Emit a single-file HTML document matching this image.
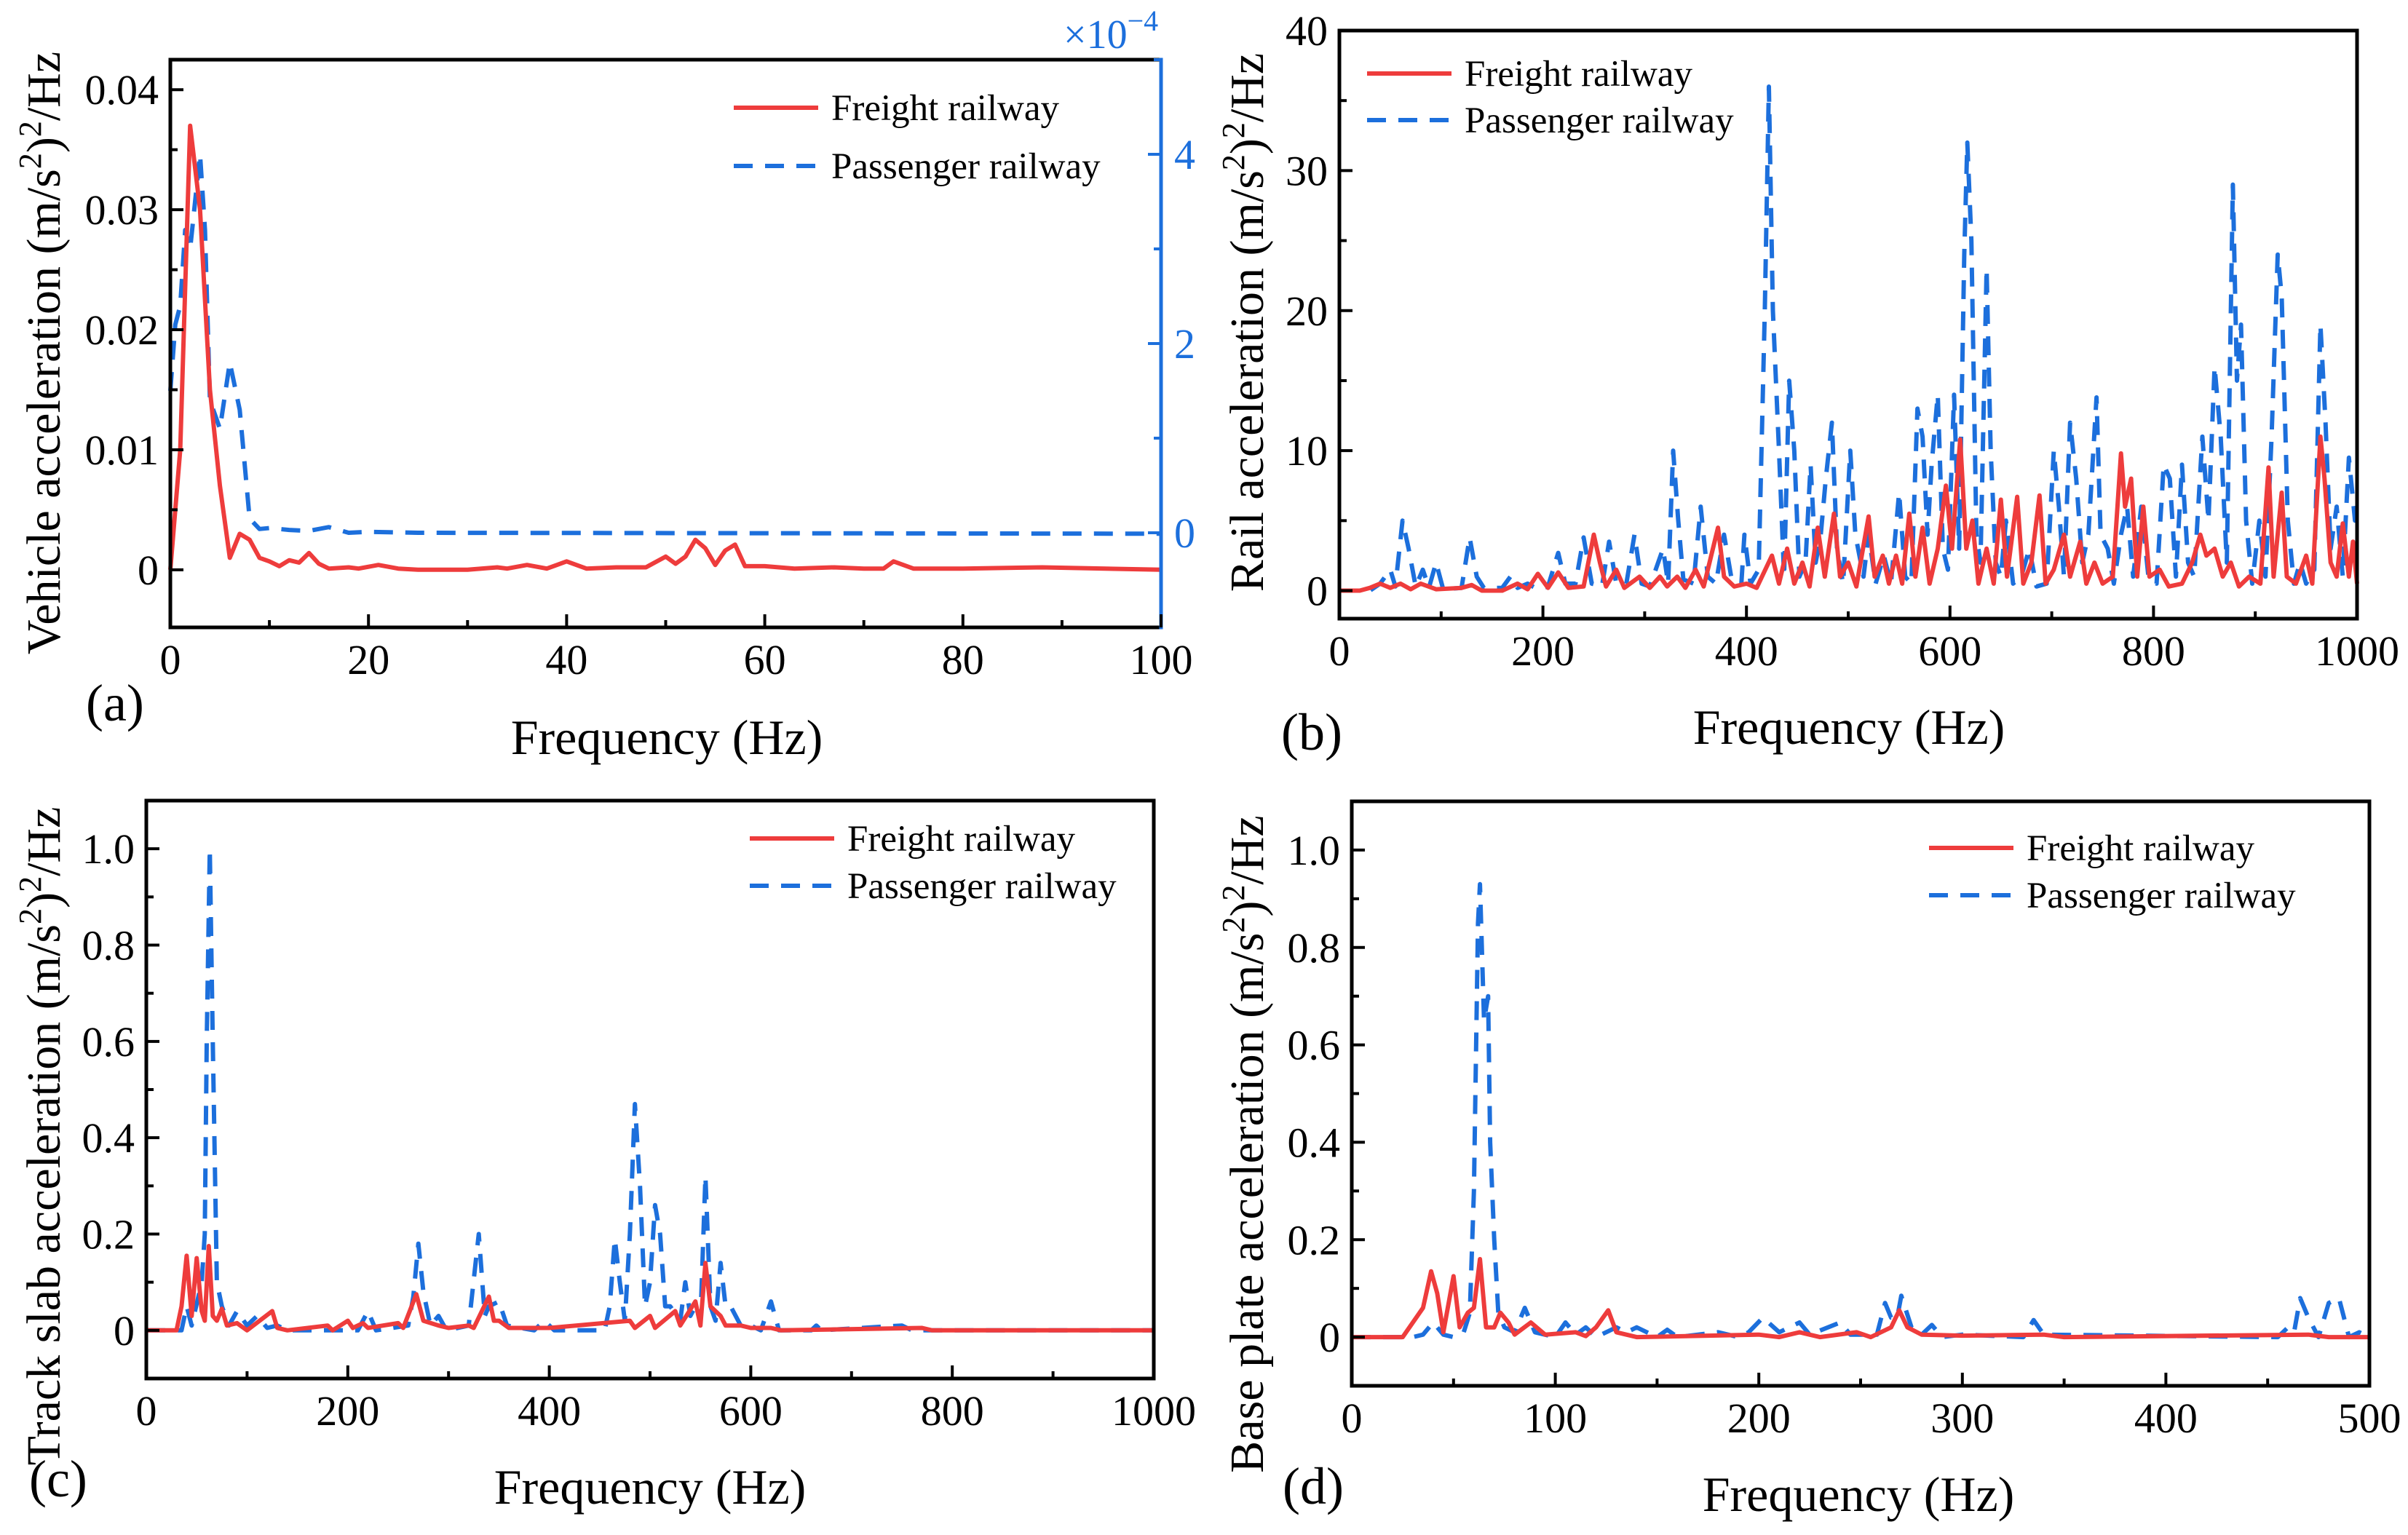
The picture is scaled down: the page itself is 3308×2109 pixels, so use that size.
<!DOCTYPE html>
<html><head><meta charset="utf-8"><style>
html,body{margin:0;padding:0;background:#fff;}
svg, svg text{font-family:"Liberation Serif","Times New Roman",serif;}
</style></head><body>
<svg id="fig" width="3308" height="2104" viewBox="0 0 3308 2104" xmlns="http://www.w3.org/2000/svg" font-family="Liberation Serif, Times New Roman, serif"></svg>
<script>
// ---------- Panel (a) data ----------
const aFreightF = [0,1,2,3,4,5,6,7,8,9,10,11,12,13,14,15,16,18,19,21,23,25,30,33,34,36,38,40,42,45,48,50,51,52,53,54,55,56,57,58,60,63,67,70,72,73,75,80,88,100];
const aFreightV = [0,0.01,0.037,0.03,0.015,0.007,0.001,0.003,0.0025,0.001,0.0007,0.0003,0.0008,0.0006,0.0014,0.0005,0.0001,0.0002,0.0001,0.0004,0.0001,0,0,0.0002,0.0001,0.0004,0.0001,0.0007,0.0001,0.0002,0.0002,0.0011,0.0005,0.0011,0.0025,0.0018,0.0004,0.0016,0.0021,0.0003,0.0003,0.0001,0.0002,0.0001,0.0001,0.0007,0.0001,0.0001,0.0002,0];
const aPassF = [0,0.5,1,1.5,2,2.5,3,3.5,4,5,6,7,8,9,10,12,14,16,18,20,25,100];
const aPassV = [1.5,2.2,2.4,3.2,3.0,3.5,4.0,3.2,1.4,1.1,1.8,1.3,0.15,0.04,0.05,0.03,0.02,0.06,0.0,0.01,0,-0.01];
const aXTicks = ["0","20","40","60","80","100"];
const aYTicks = ["0","0.01","0.02","0.03","0.04"];
const aY2Ticks = ["0","2","4"];
// ---------- Panel (b) data ----------
const bPassF = [0,30,40,50,55,62,68,75,82,88,95,102,120,128,135,142,160,168,175,185,195,205,215,222,232,240,248,258,265,272,282,290,297,305,318,323,328,333,338,348,355,362,370,378,385,395,398,404,412,418,422,426,432,437,442,447,452,458,463,468,473,478,484,489,495,502,507,515,520,527,535,542,550,556,562,568,573,578,582,588,593,598,604,609,614,617,621,626,630,636,640,645,650,655,662,670,678,685,695,702,707,712,718,724,730,736,744,748,755,761,768,774,780,788,795,803,810,816,822,828,834,840,848,854,860,866,872,878,882,886,891,897,904,910,916,922,926,932,938,944,950,958,964,969,974,980,986,992,998,1000];
const bPassV = [0,0,0.5,1.5,0.3,5,3,0.3,1.5,0.2,2,0.1,0.2,3.8,1,0.2,0.2,1,0.2,0.5,0.1,0.3,2.7,0.5,0.5,3.8,0.5,0.3,3.5,0.5,0.5,4,0.5,0.3,3,0.5,10,5,0.8,0.5,6,1,0.5,4,1,0.5,4,0.5,1.5,20,36,20,10,1,15,10,1,2,9,2,4,8,12,3,0.5,10,4,1,4,0.5,2.5,0.5,7,1,0.5,13,11,4,9,14,3,1.5,14,3,24,32,25,4,2,23,10,2,1,5,0.5,1,3,0.3,0.5,10,6,1,12,8,2,4,13.8,4,3,0.5,4,6,1,6,1,0.5,9,8,1,9,2,1,11,5,16,11,2,29,15,19,5,0.5,5,1,11,24,21,5,0.5,2,0.5,1.5,19,12,3,6,1,9.5,5,5];
const bFrF = [0,20,30,40,50,60,70,80,95,120,130,140,160,175,185,195,205,215,225,240,250,256,262,272,280,295,305,315,322,332,340,350,358,372,378,388,400,410,425,432,440,447,455,462,470,477,486,492,500,508,520,526,534,540,547,553,560,566,573,580,588,596,602,610,616,622,628,636,643,650,656,666,672,680,688,694,702,712,718,728,734,742,750,760,768,772,778,784,790,796,806,815,828,838,846,852,860,868,876,884,894,905,913,918,926,931,940,950,956,964,968,974,980,986,992,996,1000];
const bFrV = [0,0,0.2,0.5,0.2,0.5,0.1,0.5,0.1,0.2,0.4,0,0,0.5,0.1,1.2,0.2,1.3,0.2,0.3,4,2,0.3,1.5,0.2,1,0.2,1,0.3,1,0.2,1.5,0.3,4.5,1,0.3,0.5,0.2,2.5,0.5,3,0.5,2,0.3,4.5,1,5.5,1,2,0.3,5.3,1,2.5,0.5,2.5,0.5,5.5,1,4.5,0.5,3,7.5,3,10.8,3,5,0.5,3,0.5,6.5,1,6.7,0.5,2,6.8,0.5,1.5,4,1,3.5,0.5,2,0.5,1,9.8,6,8,1,6,1,1.5,0.3,0.5,2,4,2.5,3,1,2,0.3,1,0.5,8.8,1,7,1,0.5,2.5,0.5,11,8,2,1,4.8,1,3.5,0.5];
const bXTicks = ["0","200","400","600","800","1000"];
const bYTicks = ["0","10","20","30","40"];
// ---------- Panel (c) data ----------
const cPassF = [0,35,40,45,55,58,60,63,66,70,75,82,90,100,110,120,130,140,210,220,228,260,265,270,275,282,290,298,320,330,336,340,350,358,385,395,405,455,460,465,470,475,480,485,490,495,500,505,510,515,520,530,535,540,545,550,555,560,565,570,575,580,590,600,610,620,628,660,665,670,750,760,1000];
const cPassV = [0,0,0.05,0.01,0.1,0.2,0.6,1.0,0.6,0.1,0.05,0.01,0.04,0.01,0.03,0.005,0.01,0,0,0.04,0,0.01,0.07,0.18,0.08,0.01,0.03,0,0.01,0.2,0.03,0.05,0.06,0.01,0,0.02,0,0,0.05,0.19,0.1,0.02,0.2,0.47,0.3,0.05,0.1,0.26,0.2,0.05,0.05,0.02,0.1,0.03,0.05,0.02,0.32,0.05,0.02,0.14,0.05,0.05,0.01,0.01,0,0.06,0,0,0.01,0,0.01,0,0];
const cFrF = [0,30,35,40,45,50,55,58,62,66,70,75,80,90,100,125,130,140,180,185,200,205,215,220,250,255,268,275,290,300,320,325,340,345,350,360,400,480,485,500,505,525,530,545,550,555,560,570,575,590,600,620,630,770,780,1000];
const cFrV = [0,0,0.05,0.155,0.03,0.15,0.04,0.02,0.175,0.03,0.02,0.045,0.01,0.015,0,0.04,0.005,0,0.01,0,0.02,0.005,0.015,0.005,0.015,0.005,0.075,0.02,0.01,0.005,0.01,0.005,0.07,0.02,0.02,0.005,0.005,0.02,0.005,0.03,0.005,0.04,0.01,0.06,0.01,0.14,0.05,0.03,0.01,0.01,0.005,0.005,0,0.005,0,0];
const cXTicks = ["0","200","400","600","800","1000"];
const cYTicks = ["0","0.2","0.4","0.6","0.8","1.0"];
// ---------- Panel (d) data ----------
const dPassF = [0,30,35,40,45,50,55,58,60,62,63,65,67,68,70,72,75,80,85,90,100,105,110,115,120,130,135,140,150,155,160,180,190,195,202,210,220,225,240,245,258,262,265,268,270,275,280,285,290,300,330,335,340,455,460,463,466,470,475,480,485,490,495,500];
const dPassV = [0,0,0.005,0.03,0.005,0,0.01,0.05,0.3,0.85,0.93,0.65,0.7,0.4,0.2,0.05,0.02,0.01,0.06,0.01,0,0.03,0.005,0.02,0,0.02,0.01,0.02,0,0.015,0,0.01,0,0.01,0.04,0.01,0.03,0.005,0.03,0.005,0.005,0.07,0.04,0.04,0.085,0.02,0.005,0.025,0,0.005,0,0.035,0.005,0,0.02,0.01,0.08,0.04,0,0.07,0.08,0,0.01,0];
const dFrF = [0,25,30,35,39,42,45,50,53,57,60,63,66,70,73,77,80,88,95,110,115,120,126,130,140,200,210,220,230,248,255,265,269,273,280,300,340,350,470,480,500];
const dFrV = [0,0,0.03,0.06,0.135,0.09,0.01,0.125,0.02,0.05,0.06,0.16,0.02,0.02,0.05,0.03,0.005,0.03,0.005,0.01,0.002,0.02,0.055,0.01,0,0.005,0,0.01,0,0.01,0,0.02,0.055,0.02,0.005,0.003,0.005,0,0.005,0,0];
const dXTicks = ["0","100","200","300","400","500"];
const dYTicks = ["0","0.2","0.4","0.6","0.8","1.0"];

const NS = "http://www.w3.org/2000/svg";
const svg = document.getElementById('fig');
const RED = "#ee3c3c", BLUE = "#1c6fdc";
const FONT = '"Liberation Serif", "Times New Roman", serif';
function mk(tag, attrs, parent) {
  const e = document.createElementNS(NS, tag);
  for (const k in attrs) e.setAttribute(k, attrs[k]);
  if (tag === 'text') e.style.fontFamily = FONT;
  (parent || svg).appendChild(e);
  return e;
}
function scale(d0, d1, r0, r1) { return v => r0 + (v - d0) / (d1 - d0) * (r1 - r0); }

function panel(cfg) {
  const g = mk('g', {});
  
  
  const X = scale(cfg.xd[0], cfg.xd[1], cfg.L, cfg.R);
  const Y = scale(cfg.yd[0], cfg.yd[1], cfg.B, cfg.T);
  cfg.series.forEach(s => {
    const y = s.axis === 2 ? scale(cfg.y2d[0], cfg.y2d[1], cfg.B, cfg.T) : Y;
    let d = "";
    s.f.forEach((f, i) => { d += (i ? "L" : "M") + X(f).toFixed(1) + " " + y(s.v[i]).toFixed(1); });
    const p = mk('path', {d: d, fill: 'none', stroke: s.color, 'stroke-width': 6, 'stroke-linejoin': 'round'}, g);
    if (s.dash) p.setAttribute('stroke-dasharray', '26 17');
    
    
  });
  const fr = mk('rect', {x: cfg.L, y: cfg.T, width: cfg.R - cfg.L, height: cfg.B - cfg.T, fill: 'none', stroke: '#000', 'stroke-width': 5}, g);
  
  
  if (cfg.y2d) {
    const ra = mk('line', {x1: cfg.R, y1: cfg.T - 2.5, x2: cfg.R, y2: cfg.B + 2.5, stroke: BLUE, 'stroke-width': 5}, g);
    
    
  }
  const xt = cfg.xTicks.map(Number);
  const xs = xt[1] - xt[0];
  for (let v = cfg.xd[0]; v <= cfg.xd[1] + 1e-9; v += xs / 2) {
    const major = Math.abs((v / xs) - Math.round(v / xs)) < 1e-6;
    mk('line', {x1: X(v), x2: X(v), y1: cfg.B, y2: cfg.B - (major ? 18 : 10), stroke: '#000', 'stroke-width': 4}, g);
  }
  cfg.xTicks.forEach(t => {
    const tx = mk('text', {x: X(Number(t)), y: cfg.B + 64, 'font-size': 58, 'text-anchor': 'middle', fill: '#000'}, g);
    tx.textContent = t;
    
    
  });
  const yt = cfg.yTicks.map(Number);
  const ys = yt[1] - yt[0];
  for (let k = Math.ceil(cfg.yd[0] / (ys / 2)); k * ys / 2 <= cfg.yd[1] + 1e-9; k++) {
    const v = k * ys / 2;
    const major = k % 2 === 0;
    mk('line', {x1: cfg.L, x2: cfg.L + (major ? 18 : 10), y1: Y(v), y2: Y(v), stroke: '#000', 'stroke-width': 4}, g);
  }
  cfg.yTicks.forEach(t => {
    const tx = mk('text', {x: cfg.L - 16, y: Y(Number(t)) + 20, 'font-size': 58, 'text-anchor': 'end', fill: '#000'}, g);
    tx.textContent = t;
    
    
  });
  if (cfg.y2d) {
    const Y2 = scale(cfg.y2d[0], cfg.y2d[1], cfg.B, cfg.T);
    for (let v = cfg.y2d[0] + 1; v <= cfg.y2d[1]; v += 1) {
      const major = v % 2 === 0;
      mk('line', {x1: cfg.R, x2: cfg.R - (major ? 18 : 10), y1: Y2(v), y2: Y2(v), stroke: BLUE, 'stroke-width': 4}, g);
    }
    cfg.y2Ticks.forEach(t => {
      const tx = mk('text', {x: cfg.R + 18, y: Y2(Number(t)) + 20, 'font-size': 58, fill: BLUE}, g);
      tx.textContent = t;
      
      
    });
    const mult = mk('text', {x: cfg.R - 134, y: 66, 'font-size': 56, fill: BLUE}, g);
    mult.innerHTML = '×10<tspan font-size="40" dy="-24">−4</tspan>';
    
    
  }
  const xtl = mk('text', {x: cfg.xtx, y: cfg.xty, 'font-size': 68, 'text-anchor': 'middle', fill: '#000'}, g);
  xtl.textContent = 'Frequency (Hz)';
  
  
  const ytl = mk('text', {x: 0, y: 0, 'font-size': 66, 'text-anchor': 'middle', fill: '#000', transform: `translate(${cfg.ytx},${cfg.yty}) rotate(-90)`}, g);
  ytl.innerHTML = cfg.ylabel + ' (m/s<tspan font-size="44" dy="-26">2</tspan><tspan dy="26">)</tspan><tspan font-size="44" dy="-26">2</tspan><tspan dy="26">/Hz</tspan>';
  
  
  const pl = mk('text', {x: cfg.plx, y: cfg.ply, 'font-size': 72, fill: '#000'}, g);
  pl.textContent = cfg.tag;
  
  
  const lg = mk('g', {}, g);
  
  
  [['Freight railway', RED, false, 0], ['Passenger railway', BLUE, true, cfg.lgdy]].forEach(it => {
    const ln = mk('line', {x1: cfg.lgx, x2: cfg.lgx + 116, y1: cfg.lgy + it[3], y2: cfg.lgy + it[3], stroke: it[1], 'stroke-width': 6}, lg);
    if (it[2]) ln.setAttribute('stroke-dasharray', '26 17');
    
    
    const t = mk('text', {x: cfg.lgx + 134, y: cfg.lgy + it[3] + 17, 'font-size': 51, fill: '#000'}, lg);
    t.textContent = it[0];
    
    
  });
}

panel({name: 'panel-a-vehicle', L: 234, R: 1595, T: 82, B: 862, xd: [0, 100], yd: [-0.0048, 0.0425], y2d: [-1, 5],
  xTicks: aXTicks, yTicks: aYTicks, y2Ticks: aY2Ticks,
  series: [{name: 'passenger-line', f: aPassF, v: aPassV, color: BLUE, dash: true, axis: 2},
           {name: 'freight-line', f: aFreightF, v: aFreightV, color: RED}],
  xtx: 916, xty: 1036, ytx: 82, yty: 485, ylabel: 'Vehicle acceleration', tag: '(a)', plx: 118, ply: 990,
  lgx: 1008, lgy: 148, lgdy: 80});
panel({name: 'panel-b-rail', L: 1840, R: 3238, T: 42, B: 850, xd: [0, 1000], yd: [-2, 40],
  xTicks: bXTicks, yTicks: bYTicks,
  series: [{name: 'passenger-line', f: bPassF, v: bPassV, color: BLUE, dash: true},
           {name: 'freight-line', f: bFrF, v: bFrV, color: RED}],
  xtx: 2540, xty: 1022, ytx: 1735, yty: 443, ylabel: 'Rail acceleration', tag: '(b)', plx: 1760, ply: 1030,
  lgx: 1878, lgy: 101, lgdy: 64});
panel({name: 'panel-c-track-slab', L: 201, R: 1585, T: 1100, B: 1894, xd: [0, 1000], yd: [-0.1, 1.1],
  xTicks: cXTicks, yTicks: cYTicks,
  series: [{name: 'passenger-line', f: cPassF, v: cPassV, color: BLUE, dash: true},
           {name: 'freight-line', f: cFrF, v: cFrV, color: RED}],
  xtx: 893, xty: 2066, ytx: 82, yty: 1561, ylabel: 'Track slab acceleration', tag: '(c)', plx: 40, ply: 2056,
  lgx: 1030, lgy: 1152, lgdy: 65});
panel({name: 'panel-d-base-plate', L: 1857, R: 3255, T: 1101, B: 1904, xd: [0, 500], yd: [-0.1, 1.1],
  xTicks: dXTicks, yTicks: dYTicks,
  series: [{name: 'passenger-line', f: dPassF, v: dPassV, color: BLUE, dash: true},
           {name: 'freight-line', f: dFrF, v: dFrV, color: RED}],
  xtx: 2553, xty: 2076, ytx: 1735, yty: 1572, ylabel: 'Base plate acceleration', tag: '(d)', plx: 1762, ply: 2066,
  lgx: 2650, lgy: 1165, lgdy: 65});
</script>
</body></html>
